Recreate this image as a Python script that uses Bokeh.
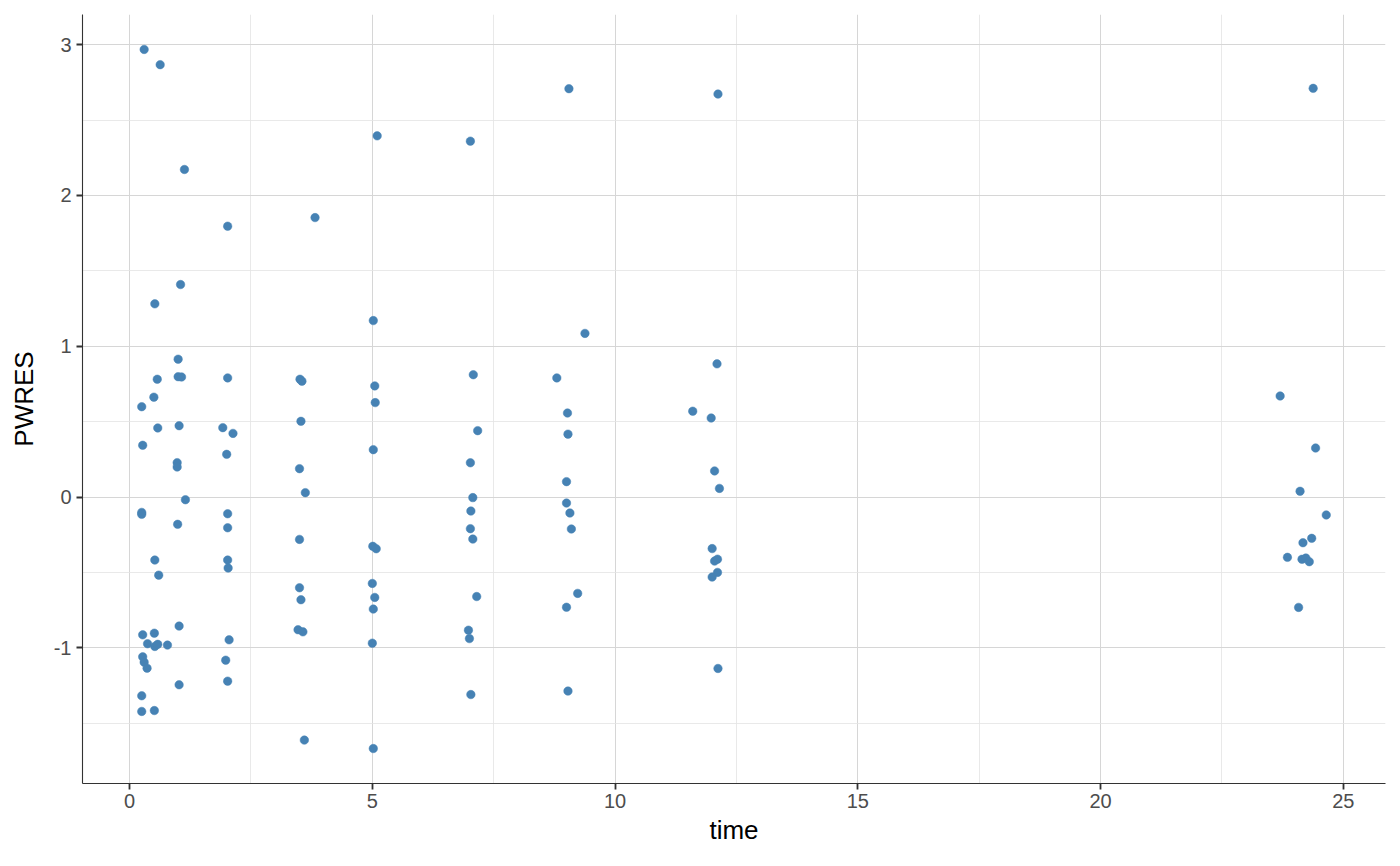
from bokeh.plotting import figure
from bokeh.models import FixedTicker, ColumnDataSource, Range1d, CustomJSTickFormatter
from bokeh.embed import file_html
from bokeh.resources import INLINE

# time values (x) and PWRES values (y)
time = [
    0.30, 0.25, 0.27, 0.25, 0.25, 0.27, 0.27, 0.30, 0.36, 0.25, 0.25, 0.37,
    0.52, 0.50, 0.52, 0.51, 0.52, 0.51, 0.63, 0.57, 0.58, 0.60, 0.58, 0.78,
    1.05, 1.00, 1.00, 1.07, 1.02, 0.98, 0.98, 0.99, 1.02, 1.02, 1.13, 1.15,
    2.02, 2.02, 1.92, 2.13, 2.00, 2.02, 2.02, 2.02, 2.03, 2.05, 1.98, 2.02,
    3.82, 3.51, 3.55, 3.53, 3.50, 3.62, 3.50, 3.50, 3.53, 3.47, 3.57, 3.60,
    5.10, 5.02, 5.05, 5.06, 5.02, 5.01, 5.08, 5.00, 5.05, 5.02, 5.00, 5.02,
    7.02, 7.08, 7.17, 7.02, 7.07, 7.03, 7.02, 7.07, 7.15, 6.98, 7.00, 7.03,
    9.05, 9.38, 8.80, 9.02, 9.03, 9.00, 9.00, 9.07, 9.10, 9.23, 9.00, 9.03,
    12.12, 12.10, 11.60, 11.98, 12.05, 12.15, 12.00, 12.05, 12.11, 12.11, 12.00, 12.12,
    24.38, 23.70, 24.43, 24.11, 24.65, 24.35, 24.17, 23.85, 24.15, 24.23, 24.30, 24.08,
]
pwres = [
    2.968, 0.599, 0.343, -0.102, -0.115, -0.914, -1.060, -1.095, -1.135, -1.318, -1.422, -0.973,
    1.281, 0.662, -0.418, -0.903, -0.991, -1.416, 2.867, 0.781, 0.458, -0.518, -0.977, -0.982,
    1.409, 0.914, 0.798, 0.796, 0.473, 0.228, 0.199, -0.181, -0.856, -1.245, 2.172, -0.018,
    1.796, 0.790, 0.460, 0.422, 0.283, -0.111, -0.204, -0.418, -0.471, -0.947, -1.082, -1.221,
    1.853, 0.781, 0.768, 0.502, 0.188, 0.029, -0.281, -0.602, -0.681, -0.880, -0.894, -1.612,
    2.395, 1.170, 0.737, 0.626, 0.314, -0.327, -0.343, -0.573, -0.666, -0.743, -0.969, -1.668,
    2.360, 0.811, 0.440, 0.227, -0.004, -0.093, -0.210, -0.279, -0.660, -0.883, -0.939, -1.310,
    2.708, 1.085, 0.790, 0.557, 0.417, 0.102, -0.040, -0.106, -0.212, -0.639, -0.731, -1.287,
    2.672, 0.883, 0.569, 0.524, 0.173, 0.057, -0.342, -0.425, -0.412, -0.500, -0.531, -1.137,
    2.710, 0.670, 0.325, 0.038, -0.119, -0.274, -0.303, -0.400, -0.413, -0.405, -0.429, -0.732,
]

x_ticks = [0, 5, 10, 15, 20, 25]
x_minor = [2.5, 7.5, 12.5, 17.5, 22.5]
y_ticks = [-1, 0, 1, 2, 3]
y_minor = [-1.5, -0.5, 0.5, 1.5, 2.5]

xmin, xmax = min(time), max(time)
ymin, ymax = min(pwres), max(pwres)
xpad = 0.05 * (xmax - xmin)
ypad = 0.05 * (ymax - ymin)

p = figure(
    width=1398, height=858,
    output_backend="svg", toolbar_location=None,
    x_range=Range1d(xmin - xpad, xmax + xpad),
    y_range=Range1d(ymin - ypad, ymax + ypad),
    min_border_left=82, min_border_right=13,
    min_border_top=14, min_border_bottom=75,
    x_axis_label="time", y_axis_label="PWRES",
)
p.outline_line_color = None
p.background_fill_color = "white"
p.border_fill_color = "white"

src = ColumnDataSource(dict(time=time, pwres=pwres))
p.scatter("time", "pwres", source=src, size=8.5, fill_color="#4682B4",
          line_color="#4682B4", line_width=0.5)

p.xaxis.ticker = FixedTicker(ticks=x_ticks, minor_ticks=x_minor)
p.yaxis.ticker = FixedTicker(ticks=y_ticks, minor_ticks=y_minor)
fmt = "return String(tick);"
p.xaxis.formatter = CustomJSTickFormatter(code=fmt)
p.yaxis.formatter = CustomJSTickFormatter(code=fmt)

for ax in (p.xaxis, p.yaxis):
    ax.axis_line_color = "#333333"
    ax.axis_line_width = 1.1
    ax.major_tick_line_color = "#333333"
    ax.major_tick_line_width = 1.8
    ax.major_tick_out = 6
    ax.major_tick_in = 0
    ax.minor_tick_line_color = None
    ax.major_label_text_font = "Liberation Sans"
    ax.major_label_text_font_size = "20px"
    ax.major_label_text_color = "#4d4d4d"
    ax.axis_label_text_font = "Liberation Sans"
    ax.axis_label_text_font_size = "26px"
    ax.axis_label_text_font_style = "normal"
    ax.axis_label_text_color = "black"

p.xaxis.major_label_standoff = 4
p.yaxis.major_label_standoff = 5
p.xaxis.axis_label_standoff = 4
p.yaxis.axis_label_standoff = 12

for g in (p.xgrid, p.ygrid):
    g.grid_line_color = "#d6d6d6"
    g.grid_line_width = 1
    g.minor_grid_line_color = "#e3e3e3"
    g.minor_grid_line_width = 0.8

open("out.html", "w").write(file_html(p, INLINE))
